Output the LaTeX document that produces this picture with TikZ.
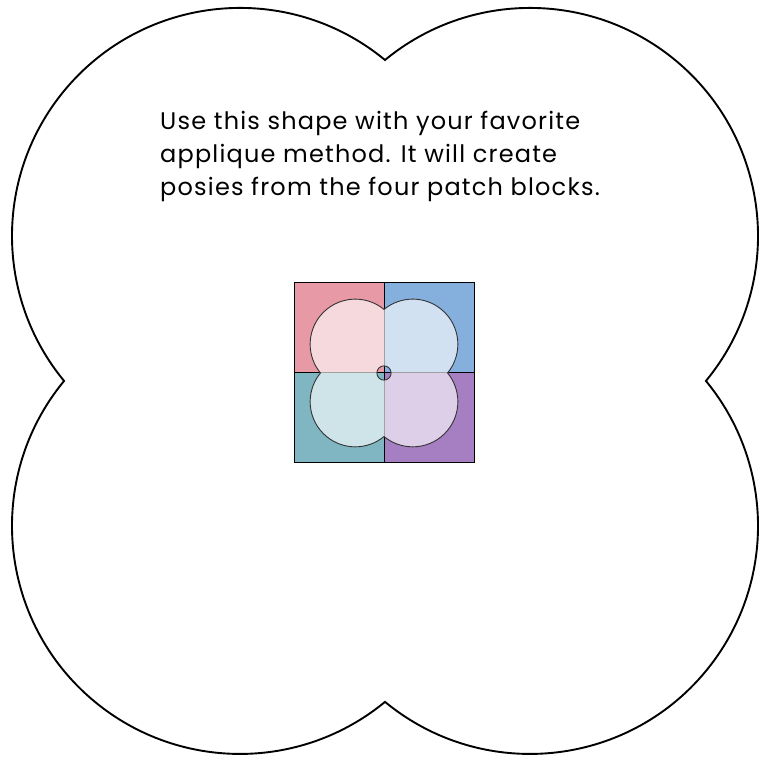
\documentclass[tikz,border=0pt]{standalone}
\usepackage{fontspec}
\setmainfont{Poppins}
\newfontfamily\notefont[LetterSpace=5]{Poppins}
\definecolor{patchTL}{HTML}{E79AA5}
\definecolor{patchTR}{HTML}{85AFDC}
\definecolor{patchBL}{HTML}{7FB6C1}
\definecolor{patchBR}{HTML}{A67FC2}
\newcommand{\posyoutline}{(0,321) arc[start angle=50.5,end angle=219.5,radius=228]
 arc[start angle=140.5,end angle=309.5,radius=228]
 arc[start angle=230.5,end angle=399.5,radius=228]
 arc[start angle=320.5,end angle=489.5,radius=228] -- cycle}
\begin{document}
\begin{tikzpicture}[x=1pt,y=1pt,
 bigposy/.style={line width=1.9pt,line join=miter},
 smallposy/.style={draw=black!80,line width=0.9pt,fill=white,fill opacity=0.63,draw opacity=1,even odd rule},
 patchline/.style={line width=1pt}]
 \useasboundingbox (0,0) rectangle (770,759);
 \coordinate (c) at (385,378);
 \coordinate (sq) at (384,386);
 \begin{scope}[shift={(c)}]
  \draw[bigposy] \posyoutline;
 \end{scope}
 \node[anchor=north west,inner sep=0,align=left,font=\notefont\fontsize{24}{33}\selectfont] (note) at (160,648)
  {Use this shape with your favorite\\applique method. It will create\\posies from the four patch blocks.};
 \begin{scope}[shift={(sq)}]
  \fill[patchTL] (-90,0) rectangle (0,90);
  \fill[patchTR] (0,0) rectangle (90,90);
  \fill[patchBL] (-90,-90) rectangle (0,0);
  \fill[patchBR] (0,-90) rectangle (90,0);
  \draw[patchline] (-90,-90) rectangle (90,90) (-90,0)--(90,0) (0,-90)--(0,90);
  \begin{scope}[scale=0.198]
   \draw[smallposy] \posyoutline (0,0) circle (36);
  \end{scope}
 \end{scope}
\end{tikzpicture}
\end{document}
